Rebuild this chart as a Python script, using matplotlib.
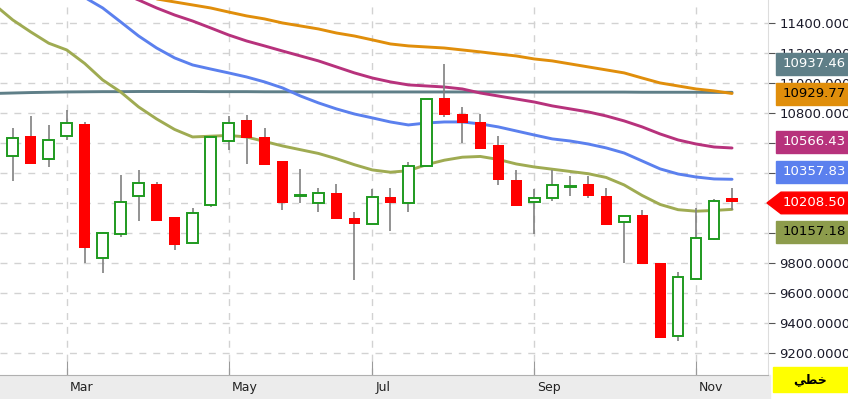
import matplotlib
matplotlib.use("Agg")
import matplotlib.pyplot as plt
import matplotlib.transforms as mtransforms
from matplotlib.patches import Rectangle, Polygon
import pandas as pd

# weekly candles
dates = pd.date_range("2024-02-05", periods=42, freq="W-MON")
opens = [10656, 10516, 10649, 10496, 10644, 10729, 9833, 9996, 10244, 10327,
         10107, 9933, 10184, 10616, 10756, 10638, 10478, 10245, 10200, 10267,
         10098, 10062, 10238, 10200, 10444, 10900, 10796, 10738, 10587, 10356,
         10204, 10233, 10306, 10329, 10249, 10076, 10118, 9800, 9316, 9696,
         9962, 10216]
highs = [10690, 10700, 10778, 10720, 10822, 10738, 10004, 10389, 10418, 10338,
         10107, 10167, 10640, 10778, 10789, 10700, 10478, 10429, 10300, 10329,
         10138, 10293, 10300, 10471, 10896, 11129, 10838, 10796, 10649, 10418,
         10293, 10418, 10378, 10378, 10300, 10116, 10156, 9800, 9738, 10167,
         10227, 10300]
lows = [10400, 10344, 10462, 10440, 10618, 9800, 9733, 9973, 10082, 10082,
        9889, 9933, 10173, 10551, 10462, 10451, 10151, 10200, 10140, 10093,
        9684, 10062, 10011, 10140, 10444, 10771, 10600, 10562, 10322, 10182,
        9993, 10211, 10244, 10233, 10051, 9800, 9793, 9300, 9282, 9696,
        9951, 10150]
closes = [10422, 10633, 10462, 10618, 10736, 9902, 9998, 10204, 10333, 10082,
          9922, 10136, 10638, 10733, 10633, 10451, 10200, 10255, 10267, 10093,
          10062, 10238, 10200, 10444, 10896, 10789, 10733, 10562, 10351, 10182,
          10236, 10318, 10316, 10244, 10051, 10116, 9793, 9300, 9707, 9965,
          10216, 10208.5]

# moving averages
ma_olive = [11520, 11420, 11340, 11265, 11220, 11130, 11020, 10940, 10840, 10760,
            10690, 10640, 10645, 10650, 10640, 10610, 10580, 10555, 10530, 10495,
            10455, 10420, 10405, 10415, 10455, 10485, 10505, 10510, 10490, 10460,
            10440, 10425, 10410, 10395, 10370, 10320, 10250, 10190, 10155, 10145,
            10150, 10157.18]
ma_blue = [11900, 11830, 11760, 11690, 11630, 11570, 11500, 11407, 11313, 11233,
           11167, 11120, 11093, 11067, 11040, 11007, 10967, 10913, 10867, 10827,
           10793, 10767, 10740, 10720, 10733, 10740, 10740, 10727, 10707, 10680,
           10653, 10627, 10613, 10593, 10567, 10533, 10480, 10427, 10393, 10373,
           10360, 10357.83]
ma_magenta = [11880, 11840, 11800, 11760, 11720, 11680, 11640, 11600, 11553, 11500,
              11453, 11413, 11367, 11320, 11280, 11247, 11213, 11180, 11147, 11107,
              11067, 11033, 11007, 10987, 10980, 10973, 10960, 10933, 10913, 10893,
              10873, 10847, 10827, 10807, 10780, 10747, 10707, 10660, 10620, 10593,
              10573, 10566.43]
ma_orange = [11720, 11700, 11680, 11660, 11640, 11620, 11600, 11585, 11570, 11560,
             11540, 11520, 11500, 11473, 11447, 11427, 11400, 11380, 11360, 11333,
             11313, 11287, 11260, 11247, 11240, 11233, 11220, 11207, 11193, 11180,
             11160, 11147, 11127, 11107, 11087, 11067, 11033, 11000, 10980, 10960,
             10947, 10929.77]
ma_slate = [10930, 10933, 10936, 10938, 10940, 10941, 10942, 10942, 10943, 10943,
            10943, 10943, 10942, 10942, 10942, 10941, 10941, 10941, 10940, 10940,
            10940, 10940, 10940, 10940, 10940, 10940, 10940, 10940, 10940, 10940,
            10939, 10939, 10939, 10939, 10939, 10939, 10938, 10938, 10938, 10938,
            10937, 10937.46]

yticks = [9200, 9400, 9600, 9800, 10000, 10200, 10400, 10600, 10800, 11000, 11200, 11400]
# labels that sit fully behind the price boxes are not shown
hidden_ticks = [10000, 10200, 10400, 10600]
x = list(range(len(dates)))

W, H = 848, 399
fig = plt.figure(figsize=(W / 100, H / 100), dpi=100)
ax = fig.add_axes([0, 24 / H, 768 / W, 375 / H])

# grid
for t in yticks:
    ax.axhline(t, color="#d2d2d2", lw=1, ls=(0, (5, 5)), zorder=0)
tick_idx = [i for i, d in enumerate(dates)
            if d.month % 2 == 1 and (i == 0 or dates[i - 1].month != d.month)]
for i in tick_idx:
    ax.axvline(i, color="#d2d2d2", lw=1, ls=(0, (5, 5)), zorder=0)

# moving averages
ma_lines = [(ma_slate, "#5f7f88"), (ma_orange, "#e08e0b"), (ma_magenta, "#b7327c"),
            (ma_blue, "#5b80ee"), (ma_olive, "#9fab52")]
for vals, c in ma_lines:
    ax.plot(x, vals, color=c, lw=2.1, zorder=2, solid_capstyle="round")

# candles
green = "#1f9a1f"
red = "#ff0000"
ax.vlines(x, lows, highs, color="#808080", lw=1.2, zorder=3)
for i in x:
    o, c = opens[i], closes[i]
    if c >= o:
        h = max(c - o, 8)
        ax.bar(i, h, bottom=o, width=0.6, facecolor="white", edgecolor=green,
               lw=1.4, zorder=4)
    else:
        h = max(o - c, 25)
        ax.bar(i, h, bottom=c, width=0.62, color=red, lw=0, zorder=4)

ax.set_xlim(0.29, 43.0)
ax.set_ylim(9053, 11553)

ax.set_xticks(tick_idx)
ax.set_xticklabels([dates[i].strftime("%b") for i in tick_idx], ha="left")
ax.tick_params(axis="x", direction="in", length=10, color="#9a9a9a",
               labelsize=9, labelcolor="#222222", pad=4)
offset = mtransforms.ScaledTranslation(3 / 100, 0, fig.dpi_scale_trans)
for lab in ax.get_xticklabels():
    lab.set_transform(lab.get_transform() + offset)

ax.yaxis.tick_right()
ax.set_yticks(yticks)
ax.set_yticklabels(["" if t in hidden_ticks else "%.4f" % t for t in yticks])
ax.tick_params(axis="y", length=5, color="#555555", labelsize=9.5,
               labelcolor="#1a1a2a", pad=3)

for s in ["top", "left"]:
    ax.spines[s].set_visible(False)
ax.spines["right"].set_color("#dddddd")
ax.spines["bottom"].set_color("#b0b0b0")

# bottom band
fig.add_artist(Rectangle((0, 0), 770 / W, 24 / H, transform=fig.transFigure,
                         color="#ececec", zorder=-1))

# price labels on the right
label_vals = [ma_slate[-1], ma_orange[-1], ma_magenta[-1], ma_blue[-1], closes[-1], ma_olive[-1]]
label_y = [11127, 10927, 10607, 10407, 10200, 10007]
label_bg = ["#5f7f88", "#e08e0b", "#b7327c", "#5b80ee", "#ff0000", "#8d9c4c"]
label_fg = ["white", "black", "white", "white", "white", "black"]
tr = mtransforms.blended_transform_factory(fig.transFigure, ax.transData)
hh = 72
for v, yc, bg, fg in zip(label_vals, label_y, label_bg, label_fg):
    if bg == "#ff0000":
        pts = [(767 / W, yc), (781 / W, yc + hh), (1, yc + hh), (1, yc - hh), (781 / W, yc - hh)]
        fig.add_artist(Polygon(pts, closed=True, transform=tr, color=bg, zorder=5,
                               clip_on=False))
    else:
        fig.add_artist(Rectangle((776 / W, yc - hh), 1 - 776 / W, 2 * hh, transform=tr,
                                 color=bg, zorder=5, clip_on=False))
    fig.text(783 / W, yc, "%.2f" % v, transform=tr, color=fg, fontsize=9.5,
             va="center", ha="left", zorder=6)

# yellow chart-type box
fig.add_artist(Rectangle((773 / W, 7 / H), 75 / W, 25 / H, transform=fig.transFigure,
                         color="#ffff00", zorder=5))
fig.text(810 / W, 19.5 / H, "\ufef2\ufec4\ufea7", fontsize=9, fontweight="bold",
         ha="center", va="center", color="black", zorder=6)

fig.savefig("out.png", dpi=100)
